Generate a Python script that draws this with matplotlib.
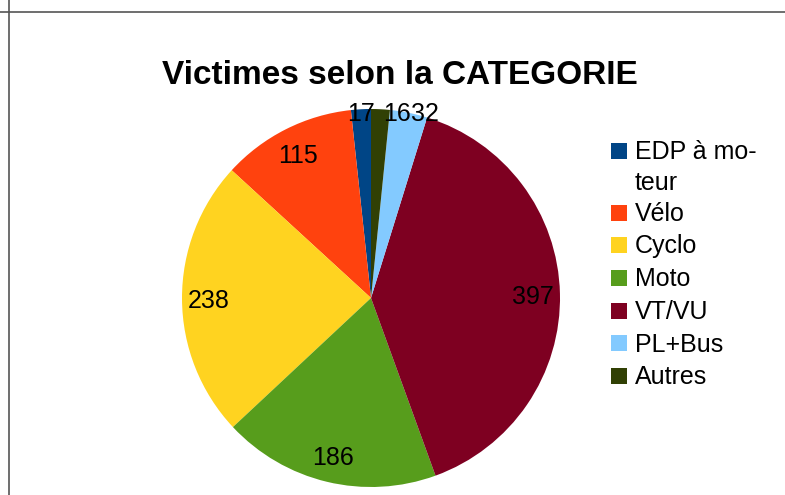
import matplotlib
matplotlib.use("Agg")
import matplotlib.pyplot as plt
from matplotlib.patches import Rectangle
from matplotlib.lines import Line2D
import numpy as np

plt.rcParams['font.family'] = ['Liberation Sans', 'DejaVu Sans']

categories = ["EDP à moteur", "Vélo", "Cyclo", "Moto", "VT/VU", "PL+Bus", "Autres"]
legend_labels = ["EDP à mo-", "Vélo", "Cyclo", "Moto", "VT/VU", "PL+Bus", "Autres"]
values = [17, 115, 238, 186, 397, 32, 16]
colors = ["#004586", "#ff420e", "#ffd320", "#579d1c", "#7e0021", "#83caff", "#314004"]
title = "Victimes selon la CATEGORIE"

W, H = 785, 495
fig = plt.figure(figsize=(W / 100, H / 100), dpi=100)

# frame lines
fig.add_artist(Line2D([0, 1], [1 - 11.5 / H, 1 - 11.5 / H], color="#555555", lw=1.2))
fig.add_artist(Line2D([8.5 / W, 8.5 / W], [0, 1], color="#555555", lw=1.2))

cx, cy, r = 371, 298, 189
ax = fig.add_axes([(cx - r) / W, (H - cy - r) / H, 2 * r / W, 2 * r / H])
wedges, texts = ax.pie(values, colors=colors, startangle=90, counterclock=True,
                       labels=[str(v) for v in values], labeldistance=0.857,
                       wedgeprops=dict(linewidth=0),
                       textprops=dict(fontsize=18, color="black", ha="center", va="baseline"))
ax.set_xlim(-1, 1)
ax.set_ylim(-1, 1)
ax.set_aspect("equal")
ax.axis("off")

half_cap = 9.5 / r
shifts = {0: 0.0, 5: 0.09, 6: 0.09}
for i, t in enumerate(texts):
    w = wedges[i]
    ang = np.deg2rad((w.theta1 + w.theta2) / 2)
    if values[i] < 50:
        x = 0.98 * np.cos(ang) + shifts.get(i, 0)
        y = 0.987
    else:
        x = 0.857 * np.cos(ang)
        y = 0.857 * np.sin(ang)
    t.set_position((x, y - half_cap))

fig.text(400 / W, 1 - 75 / H, title, fontsize=24, fontweight="bold", ha="center", va="center")

# legend
ys = [150.5, 212.5, 245, 278, 310.5, 343, 376]
for lab, col, y in zip(legend_labels, colors, ys):
    fig.add_artist(Rectangle((611 / W, 1 - (y + 8) / H), 16 / W, 16 / H, facecolor=col,
                             edgecolor="none", transform=fig.transFigure))
    fig.text(635 / W, 1 - (y + 8.5) / H, lab, fontsize=18, ha="left", va="baseline")
fig.text(635 / W, 1 - 190 / H, "teur", fontsize=18, ha="left", va="baseline")

fig.savefig("out.png", dpi=100)
